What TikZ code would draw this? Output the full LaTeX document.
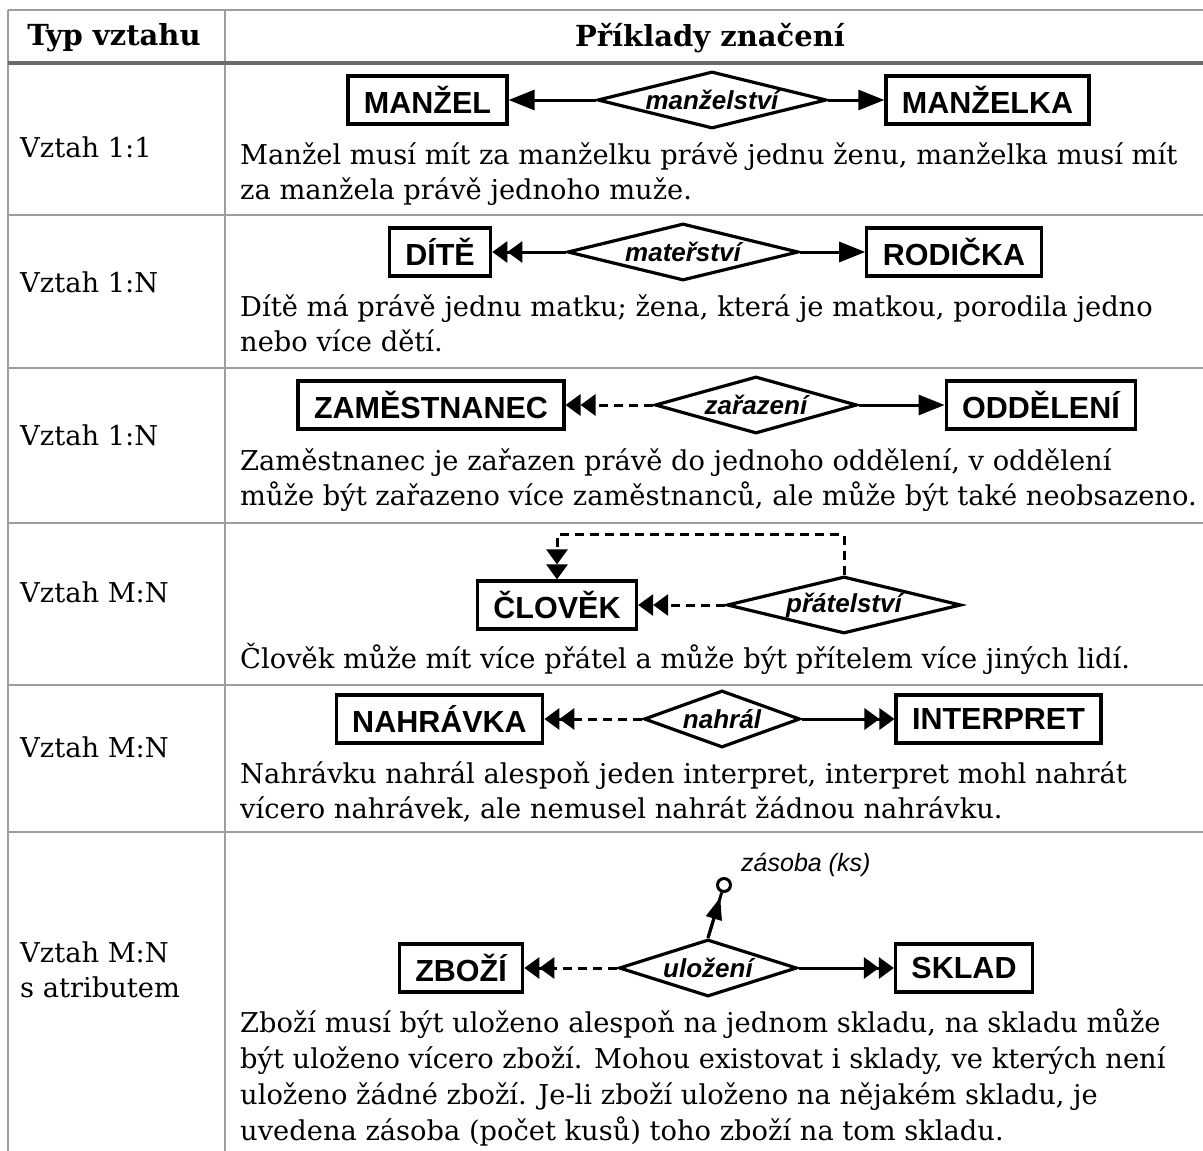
\documentclass[tikz,border=0pt]{standalone}
\usepackage{fontspec}
\setmainfont{DejaVu Serif}
\newfontfamily\erfont{Liberation Sans}
\usetikzlibrary{arrows.meta,shapes.geometric}

\tikzset{
  gridline/.style={draw=black!38, line width=2pt},
  headrule/.style={draw=black!58, line width=3.5pt},
  entity/.style={draw, line width=3.2pt, fill=white,
    font=\erfont\bfseries\fontsize{30.5}{34}\selectfont,
    inner xsep=16pt, inner ysep=0pt, minimum height=48pt},
  rel/.style={draw, shape=diamond, line width=3.2pt, fill=white,
    font=\erfont\bfseries\itshape\fontsize{26}{30}\selectfont,
    inner sep=0pt, minimum height=57pt, aspect=4},
  conn/.style={line width=3pt},
  dashline/.style={dash pattern=on 9pt off 6pt},
  one/.style={-{Triangle[length=26pt,width=20pt]}},
  many/.style={-{Triangle[length=15pt,width=21pt]Triangle[length=15pt,width=21pt]}},
  body/.style={anchor=base west, inner sep=0pt, font=\fontsize{27.3}{32}\selectfont},
  kind/.style={anchor=mid west, inner sep=0pt, font=\fontsize{27.3}{32}\selectfont},
  headtext/.style={inner sep=0pt, font=\bfseries\fontsize{29}{34}\selectfont},
  attrdot/.style={draw, circle, line width=3pt, fill=white, minimum size=13pt, inner sep=0pt},
  attrtext/.style={anchor=base west, inner sep=0pt, font=\erfont\itshape\fontsize{25}{28}\selectfont}
}

\begin{document}
\begin{tikzpicture}[x=1pt,y=-1pt]
\useasboundingbox (0,0) rectangle (1203,1151);

% table rules
\draw[gridline] (8,10) -- (1203,10);
\draw[gridline] (8,10) -- (8,1151);
\draw[gridline] (225,10) -- (225,1151);
\foreach \yy in {215,368,523,685,832}
  \draw[gridline] (8,\yy) -- (1203,\yy);
\draw[headrule] (8,63) -- (1203,63);

% header
\node[headtext] (h1) at (114,38) {Typ vztahu};
\node[headtext] (h2) at (710,38) {Příklady značení};

% first column
\node[kind] (k1) at (20,155) {Vztah 1:1};
\node[kind] (k2) at (20,290) {Vztah 1:N};
\node[kind] (k3) at (20,443) {Vztah 1:N};
\node[kind] (k4) at (20,600) {Vztah M:N};
\node[kind] (k5) at (20,755) {Vztah M:N};
\node[kind] (k6a) at (20,960) {Vztah M:N};
\node[kind] (k6b) at (20,995) {s atributem};

% ---- 1:1 manzelstvi
\node[entity] (a1) at (427.5,100) {MANŽEL};
\node[rel, minimum width=229pt] (r1) at (712,100) {manželství};
\node[entity] (b1) at (987.5,100) {MANŽELKA};
\draw[conn,one] (r1.west) -- (a1.east);
\draw[conn,one] (r1.east) -- (b1.west);
\node[body] (t1a) at (240,164) {Manžel musí mít za manželku právě jednu ženu, manželka musí mít};
\node[body] (t1b) at (240,199) {za manžela právě jednoho muže.};

% ---- 1:N materstvi
\node[entity] (a2) at (440,252) {DÍTĚ};
\node[rel, minimum width=231pt] (r2) at (683,252) {mateřství};
\node[entity] (b2) at (954,252) {RODIČKA};
\draw[conn,many] (r2.west) -- (a2.east);
\draw[conn,one] (r2.east) -- (b2.west);
\node[body] (t2a) at (240,316) {Dítě má právě jednu matku; žena, která je matkou, porodila jedno};
\node[body] (t2b) at (240,351) {nebo více dětí.};

% ---- 1:N zarazeni
\node[entity] (a3) at (431,405) {ZAMĚSTNANEC};
\node[rel, minimum width=202pt] (r3) at (756,405) {zařazení};
\node[entity] (b3) at (1041,405) {ODDĚLENÍ};
\draw[conn,dashline,many] (r3.west) -- (a3.east);
\draw[conn,one] (r3.east) -- (b3.west);
\node[body] (t3a) at (240,470) {Zaměstnanec je zařazen právě do jednoho oddělení, v oddělení};
\node[body] (t3b) at (240,505) {může být zařazeno více zaměstnanců, ale může být také neobsazeno.};

% ---- M:N pratelstvi (recursive)
\node[entity] (a4) at (557,605) {ČLOVĚK};
\node[rel, minimum width=234pt] (r4) at (844,605) {přátelství};
\draw[conn,dashline,many] (r4.west) -- (a4.east);
\draw[conn,dashline,many] (r4.north) -- ++(0,-40) -| (a4.north);
\node[body] (t4a) at (240,668) {Člověk může mít více přátel a může být přítelem více jiných lidí.};

% ---- M:N nahral
\node[entity] (a5) at (439.5,719) {NAHRÁVKA};
\node[rel, minimum width=156pt] (r5) at (722,719) {nahrál};
\node[entity] (b5) at (998.5,719) {INTERPRET};
\draw[conn,dashline,many] (r5.west) -- (a5.east);
\draw[conn,many] (r5.east) -- (b5.west);
\node[body] (t5a) at (240,783) {Nahrávku nahrál alespoň jeden interpret, interpret mohl nahrát};
\node[body] (t5b) at (240,818) {vícero nahrávek, ale nemusel nahrát žádnou nahrávku.};

% ---- M:N with attribute
\node[entity] (a6) at (461,968) {ZBOŽÍ};
\node[rel, minimum width=178pt] (r6) at (708,968) {uložení};
\node[entity] (b6) at (964,968) {SKLAD};
\draw[conn,dashline,many] (r6.west) -- (a6.east);
\draw[conn,many] (r6.east) -- (b6.west);
\node[attrdot] (at6) at (724,885) {};
\node[attrtext] (at6t) at (741,871) {zásoba (ks)};
\draw[line width=3pt] (r6.north) -- (at6);
\draw[line width=3pt,-{Triangle[length=22pt,width=16pt]},shorten >=5pt] (r6.north) -- (at6);
\node[body] (t6a) at (240,1032) {Zboží musí být uloženo alespoň na jednom skladu, na skladu může};
\node[body] (t6b) at (240,1068) {být uloženo vícero zboží. Mohou existovat i sklady, ve kterých není};
\node[body] (t6c) at (240,1104) {uloženo žádné zboží. Je-li zboží uloženo na nějakém skladu, je};
\node[body] (t6d) at (240,1140) {uvedena zásoba (počet kusů) toho zboží na tom skladu.};
\end{tikzpicture}
\end{document}
